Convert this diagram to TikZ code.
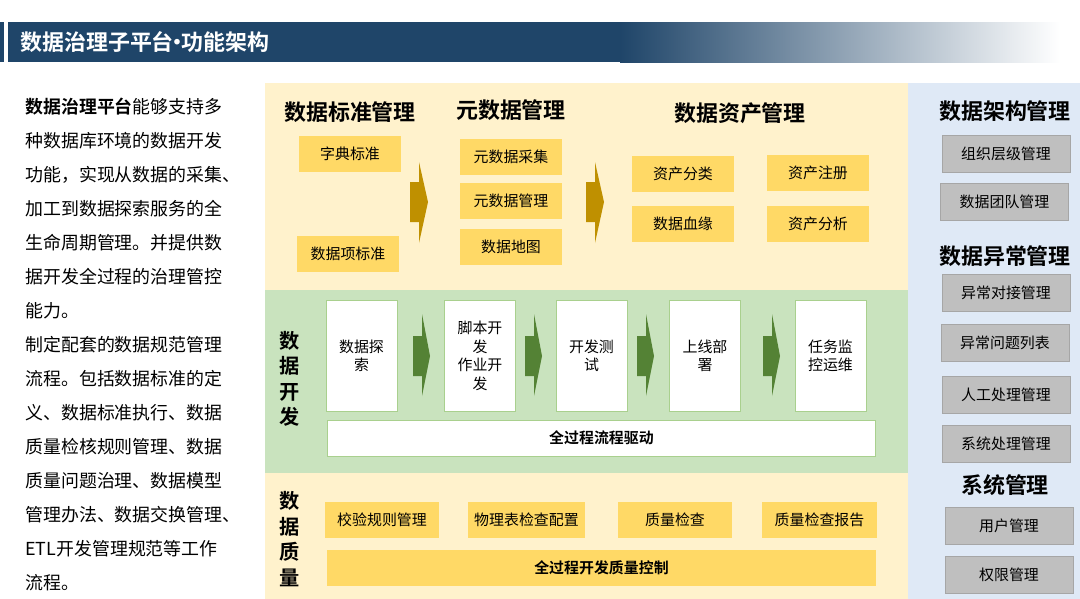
\documentclass[tikz,border=0pt]{standalone}
\usepackage{fontspec}
\setmainfont{Noto Sans CJK SC}[BoldFont=* Bold]
\usetikzlibrary{positioning}
\definecolor{navy}{HTML}{1F4569}
\definecolor{paleyellow}{HTML}{FFF2CC}
\definecolor{palegreen}{HTML}{C9E3BE}
\definecolor{paleblue}{HTML}{DFE9F6}
\definecolor{gold}{HTML}{FFD966}
\definecolor{darkgold}{HTML}{BF9000}
\definecolor{leaf}{HTML}{548235}
\definecolor{greenline}{HTML}{A9D08E}
\tikzset{
  heading/.style={font=\bfseries\fontsize{12.5}{14}\selectfont},
  goldbox/.style={fill=gold, minimum width=#1, minimum height=20.4pt, font=\fontsize{8.5}{10}\selectfont},
  goldbox/.default=58.5pt,
  stepbox/.style={fill=white, draw=greenline, minimum width=40.5pt, minimum height=63pt, align=center, font=\fontsize{8.5}{10.5}\selectfont},
  graybox/.style={fill=black!25, draw=black!35, minimum width=73pt, minimum height=21pt, font=\fontsize{8.5}{10}\selectfont},
  sidelabel/.style={font=\bfseries\fontsize{11.5}{14.5}\selectfont, align=center},
  bodyline/.style={anchor=west, inner sep=0pt, font=\fontsize{10.2}{12}\selectfont},
}
\begin{document}
\begin{tikzpicture}[x=0.02cm, y=-0.02cm]
  \useasboundingbox (0,0) rectangle (1080,599);
  \fill[white] (0,0) rectangle (1080,599);
  % title bar
  \fill[navy] (0,22) rectangle (4,62);
  \fill[navy] (8,22) rectangle (621,62);
  \shade[left color=navy, right color=white] (620,22) rectangle (1060,62);
  \node[anchor=west, text=white, font=\bfseries\fontsize{12.5}{14}\selectfont] (title) at (14,42) {数据治理子平台\kern-4pt·\kern-4pt功能架构};
  % left text
  \node[bodyline] (l1) at (25,107) {\textbf{数据治理平台}能够支持多};
  \node[bodyline] (l2) at (25,141) {种数据库环境的数据开发};
  \node[bodyline] (l3) at (25,175) {功能，实现从数据的采集、};
  \node[bodyline] (l4) at (25,209) {加工到数据探索服务的全};
  \node[bodyline] (l5) at (25,243) {生命周期管理。并提供数};
  \node[bodyline] (l6) at (25,277) {据开发全过程的治理管控};
  \node[bodyline] (l7) at (25,311) {能力。};
  \node[bodyline] (l8) at (25,345) {制定配套的数据规范管理};
  \node[bodyline] (l9) at (25,379) {流程。包括数据标准的定};
  \node[bodyline] (l10) at (25,413) {义、数据标准执行、数据};
  \node[bodyline] (l11) at (25,447) {质量检核规则管理、数据};
  \node[bodyline] (l12) at (25,481) {质量问题治理、数据模型};
  \node[bodyline] (l13) at (25,515) {管理办法、数据交换管理、};
  \node[bodyline] (l14) at (25,549) {ETL开发管理规范等工作};
  \node[bodyline] (l15) at (25,583) {流程。};
  % panels
  \fill[paleyellow] (265,83) rectangle (908,290);
  \fill[palegreen] (265,290) rectangle (908,473);
  \fill[paleyellow] (265,473) rectangle (908,599);
  \fill[paleblue] (908,83) rectangle (1080,599);
  % top section
  \node[heading] (std) at (350,112) {数据标准管理};
  \node[heading] (meta) at (511,110) {元数据管理};
  \node[heading] (asset) at (740,113) {数据资产管理};
  \node[goldbox] (dict) at (350,154) {字典标准};
  \node[goldbox] (item) at (348,254) {数据项标准};
  \node[goldbox] (mcollect) at (511,157) {元数据采集};
  \node[goldbox] (mmanage) at (511,201) {元数据管理};
  \node[goldbox] (mmap) at (511,247) {数据地图};
  \node[goldbox] (aclass) at (683,174) {资产分类};
  \node[goldbox] (alineage) at (683,224) {数据血缘};
  \node[goldbox] (areg) at (818,173) {资产注册};
  \node[goldbox] (aanalyse) at (818,224) {资产分析};
  \foreach \ax in {420,596}
    \fill[darkgold] (\ax-10,182) -- (\ax-1,182) -- (\ax-1,162) -- (\ax+8,202)
      -- (\ax-1,243) -- (\ax-1,222) -- (\ax-10,222) -- cycle;
  % development section
  \node[sidelabel] (devlabel) at (290,379) {数\\据\\开\\发};
  \node[stepbox] (explore) at (361.5,356) {数据探\\索};
  \node[stepbox] (script) at (480,356) {脚本开\\发\\作业开\\发};
  \node[stepbox] (test) at (591.5,356) {开发测\\试};
  \node[stepbox] (deploy) at (705,356) {上线部\\署};
  \node[stepbox] (monitor) at (830.5,356) {任务监\\控运维};
  \foreach \ax in {421,533,645,771}
    \fill[leaf] (\ax-8,336) -- (\ax+1,336) -- (\ax+1,314) -- (\ax+9,356)
      -- (\ax+1,396) -- (\ax+1,376) -- (\ax-8,376) -- cycle;
  \node[fill=white, draw=greenline, minimum width=312pt, minimum height=20.4pt, font=\bfseries\fontsize{8.5}{10}\selectfont] (drive) at (601.5,438) {全过程流程驱动};
  % quality section
  \node[sidelabel] (qlabel) at (290,539) {数\\据\\质\\量};
  \node[goldbox=64.5pt] (rules) at (382,520) {校验规则管理};
  \node[goldbox=65pt] (physical) at (526.5,520) {物理表检查配置};
  \node[goldbox=64.5pt] (check) at (675,520) {质量检查};
  \node[goldbox=65pt] (report) at (819.5,520) {质量检查报告};
  \node[goldbox=312pt, font=\bfseries\fontsize{8.5}{10}\selectfont] (control) at (601.5,568) {全过程开发质量控制};
  % right panel
  \node[heading] (arch) at (1005,111) {数据架构管理};
  \node[graybox] (org) at (1006,154) {组织层级管理};
  \node[graybox] (team) at (1004.5,201.5) {数据团队管理};
  \node[heading] (abn) at (1005,256) {数据异常管理};
  \node[graybox] (dock) at (1006,292.5) {异常对接管理};
  \node[graybox] (issues) at (1005,342.5) {异常问题列表};
  \node[graybox] (manual) at (1006,394.5) {人工处理管理};
  \node[graybox] (auto) at (1006,443.5) {系统处理管理};
  \node[heading] (sys) at (1005,485) {系统管理};
  \node[graybox] (user) at (1009,525.5) {用户管理};
  \node[graybox] (perm) at (1009,574.5) {权限管理};
\end{tikzpicture}
\end{document}
